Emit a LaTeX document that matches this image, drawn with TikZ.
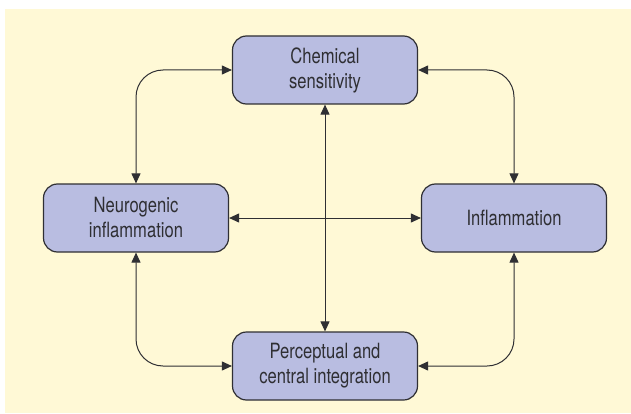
\documentclass[tikz,border=0pt]{standalone}
\usepackage{fontspec}
\setmainfont[FakeStretch=0.79]{TeX Gyre Heros}
\usepackage{tikz}
\usetikzlibrary{arrows.meta, positioning}
\definecolor{PaleYellow}{HTML}{FFF9D6}
\definecolor{Lavender}{HTML}{B9BDE1}
\definecolor{InkGray}{HTML}{2F2F33}

\begin{document}
\begin{tikzpicture}[
      x=1pt, y=1pt,
      box/.style={draw=InkGray, line width=1.2pt, fill=Lavender, rounded corners=14pt, minimum height=68pt, minimum width=185pt, inner sep=2pt, text=InkGray, font=\fontsize{21}{25}\selectfont, align=center},
      link/.style={{Triangle[length=10pt,width=9pt]}-{Triangle[length=10pt,width=9pt]}, line width=1pt, InkGray}
    ]
      \useasboundingbox (0,0) rectangle (631,413);
      \fill[PaleYellow] (5,0) rectangle (631,404);
      \node[box] (chem) at (325,343) {Chemical\\sensitivity};
      \node[box] (neuro) at (136,195) {Neurogenic\\inflammation};
      \node[box] (infl) at (514,195) {Inflammation};
      \node[box] (perc) at (325,47) {Perceptual and\\central integration};
      \draw[link, rounded corners=27pt] (chem.west) -| (neuro.north);
      \draw[link, rounded corners=27pt] (chem.east) -| (infl.north);
      \draw[link, rounded corners=27pt] (perc.west) -| (neuro.south);
      \draw[link, rounded corners=27pt] (perc.east) -| (infl.south);
      \draw[link] (chem) -- (perc);
      \draw[link] (neuro) -- (infl);
    \end{tikzpicture}
\end{document}
